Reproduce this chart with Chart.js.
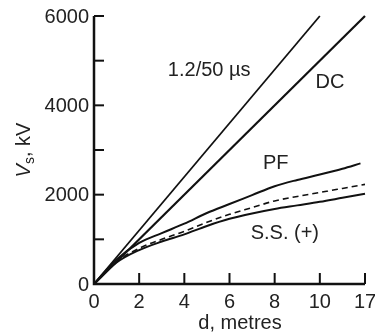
<!DOCTYPE html>
<html>
<head>
<meta charset="utf-8">
<script src="https://cdn.jsdelivr.net/npm/chart.js@4"></script>
<style>
  body { margin: 0; background: #fff; }
  #wrap { width: 375px; height: 334px; }
</style>
</head>
<body>
<div id="wrap"><canvas id="vsChart"></canvas></div>
<script>
// distance d (metres) and breakdown voltage Vs (kV)
const impulseX = [0, 10];
const impulseY = [0, 6000];
const dcX = [0, 12];
const dcY = [0, 6000];
const pfX = [0, 1, 2, 3, 4, 5, 6, 7, 8, 9, 10, 11, 11.8];
const pfY = [0, 550, 920, 1140, 1350, 1590, 1790, 1990, 2190, 2330, 2450, 2580, 2700];
const ssDashX = [0, 1, 2, 3, 4, 5, 6, 7, 8, 9, 10, 11, 12];
const ssDashY = [0, 500, 800, 1000, 1180, 1380, 1560, 1710, 1860, 1960, 2050, 2140, 2230];
const ssX = [0, 1, 2, 3, 4, 5, 6, 7, 8, 9, 10, 11, 12];
const ssY = [0, 480, 760, 950, 1110, 1300, 1460, 1580, 1680, 1760, 1840, 1930, 2020];

const xTicks = [0, 2, 4, 6, 8, 10, 12];
const xTickLabels = ['0', '2', '4', '6', '8', '10', '17'];
const yTicks = [0, 1000, 2000, 3000, 4000, 5000, 6000];
const yTickLabels = ['0', '', '2000', '', '4000', '', '6000'];

// curve names, placed at data coordinates
const curveNames = ['1.2/50 \u00b5s', 'DC', 'PF', 'S.S. (+)'];
const nameX = [5.1, 10.45, 8.05, 8.45];
const nameY = [4790, 4520, 2700, 1120];

function pts(xs, ys) {
    return xs.map((x, i) => ({ x: x, y: ys[i] }));
}

const FONT = '20px "Liberation Sans", Arial, sans-serif';

const axesPlugin = {
    id: 'axesPlugin',
    afterDraw(chart) {
        const ctx = chart.ctx;
        const xs = chart.scales.x;
        const ys = chart.scales.y;
        const x0 = xs.getPixelForValue(0);
        const y0 = ys.getPixelForValue(0);
        ctx.save();
        ctx.strokeStyle = '#111';
        ctx.fillStyle = '#222';
        ctx.lineWidth = 2.5;
        ctx.lineCap = 'butt';
        // axis lines
        ctx.beginPath();
        ctx.moveTo(x0, ys.getPixelForValue(6000));
        ctx.lineTo(x0, y0);
        ctx.lineTo(xs.getPixelForValue(12), y0);
        ctx.stroke();
        // inward ticks
        ctx.lineWidth = 2;
        yTicks.forEach(v => {
            const p = ys.getPixelForValue(v);
            ctx.beginPath();
            ctx.moveTo(x0, p);
            ctx.lineTo(x0 + 10, p);
            ctx.stroke();
        });
        xTicks.forEach(v => {
            const p = xs.getPixelForValue(v);
            ctx.beginPath();
            ctx.moveTo(p, y0);
            ctx.lineTo(p, y0 - 11);
            ctx.stroke();
        });
        // tick labels
        ctx.font = FONT;
        ctx.textAlign = 'right';
        ctx.textBaseline = 'middle';
        yTicks.forEach((v, i) => {
            ctx.fillText(yTickLabels[i], x0 - 5, ys.getPixelForValue(v) + 1);
        });
        ctx.textAlign = 'center';
        ctx.textBaseline = 'top';
        xTicks.forEach((v, i) => {
            ctx.fillText(xTickLabels[i], xs.getPixelForValue(v), y0 + 8);
        });
        // x title
        ctx.fillText('d, metres', 240, 313);
        // y title: italic V with subscript s
        ctx.translate(24, 150);
        ctx.rotate(-Math.PI / 2);
        ctx.textBaseline = 'alphabetic';
        ctx.textAlign = 'left';
        const italic = 'italic ' + FONT;
        const small = '14px "Liberation Sans", Arial, sans-serif';
        ctx.font = italic;
        const wV = ctx.measureText('V').width;
        ctx.font = small;
        const wS = ctx.measureText('s').width;
        ctx.font = FONT;
        const wR = ctx.measureText(', kV').width;
        let start = -(wV + wS + wR) / 2;
        ctx.font = italic;
        ctx.fillText('V', start, 6);
        ctx.font = small;
        ctx.fillText('s', start + wV, 10);
        ctx.font = FONT;
        ctx.fillText(', kV', start + wV + wS, 6);
        ctx.restore();

        // curve names
        ctx.save();
        ctx.font = FONT;
        ctx.fillStyle = '#222';
        ctx.textAlign = 'center';
        ctx.textBaseline = 'middle';
        curveNames.forEach((t, i) => {
            ctx.fillText(t, xs.getPixelForValue(nameX[i]), ys.getPixelForValue(nameY[i]));
        });
        ctx.restore();
    }
};

const ctx = document.getElementById('vsChart').getContext('2d');
const vsChart = new Chart(ctx, {
    type: 'scatter',
    data: {
        datasets: [
            { data: pts(impulseX, impulseY), borderColor: '#111', borderWidth: 1.8 },
            { data: pts(dcX, dcY), borderColor: '#111', borderWidth: 2.2 },
            { data: pts(pfX, pfY), borderColor: '#111', borderWidth: 2 },
            { data: pts(ssDashX, ssDashY), borderColor: '#111', borderWidth: 1.6, borderDash: [6, 4] },
            { data: pts(ssX, ssY), borderColor: '#111', borderWidth: 2 }
        ]
    },
    options: {
        responsive: true,
        maintainAspectRatio: false,
        animation: false,
        layout: {
            padding: { left: 94, right: 10, top: 16, bottom: 50 }
        },
        plugins: {
            legend: false,
            tooltip: false
        },
        elements: {
            point: { radius: 0 },
            line: { cubicInterpolationMode: 'monotone', fill: false }
        },
        datasets: {
            scatter: { showLine: true, clip: false }
        },
        scales: {
            x: { type: 'linear', min: 0, max: 12, display: false },
            y: { type: 'linear', min: 0, max: 6000, display: false }
        }
    },
    plugins: [axesPlugin]
});
</script>
</body>
</html>
